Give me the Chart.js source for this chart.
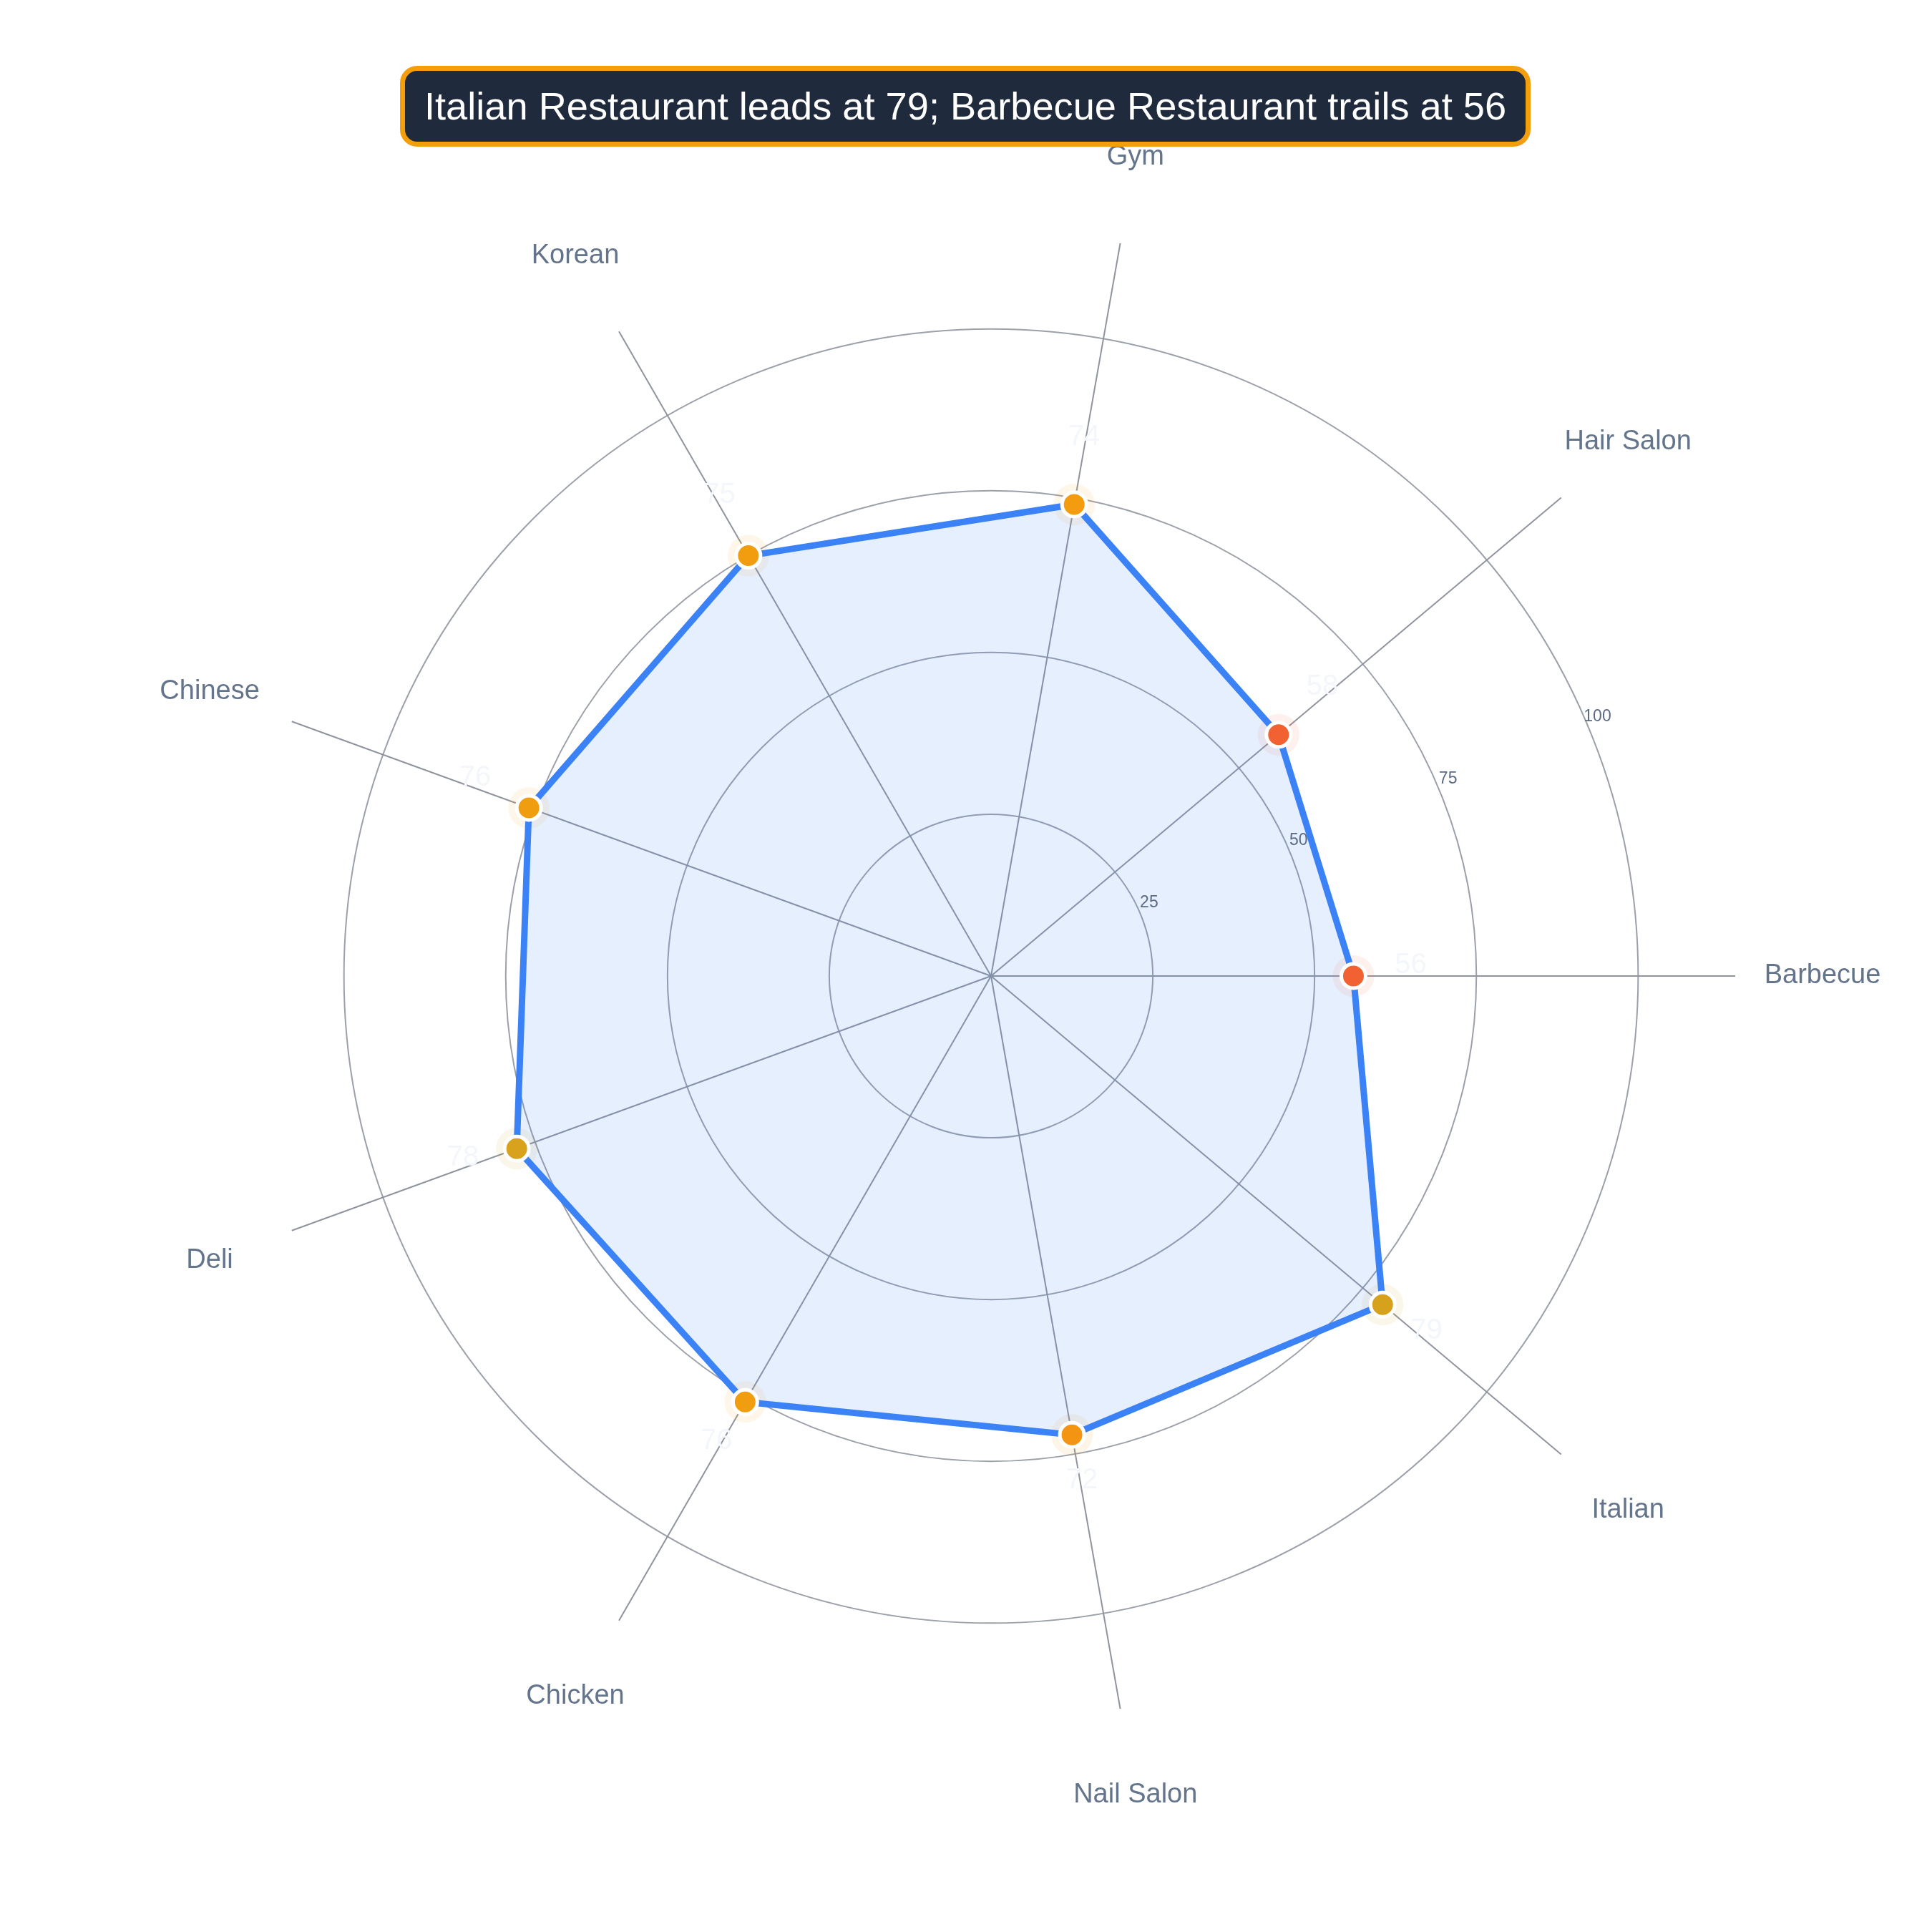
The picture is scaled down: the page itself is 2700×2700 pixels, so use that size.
<!DOCTYPE html>
<html>
<head>
<meta charset="utf-8">
<script src="https://cdn.jsdelivr.net/npm/chart.js@4.4.1/dist/chart.umd.min.js"></script>
<style>
  html, body { margin: 0; padding: 0; background: #ffffff; }
  #wrap { position: relative; width: 2700px; height: 2700px; }
  #title {
    position: absolute; top: 92px; left: 559px;
    height: 99px; line-height: 99px;
    padding: 0 27px;
    background: #1f2a3c; color: #ffffff;
    border: 7px solid #f59e0b; border-radius: 24px;
    font-family: "Liberation Sans", Arial, sans-serif; font-size: 54.2px;
    white-space: nowrap;
  }
</style>
</head>
<body>
<div id="wrap">
  <canvas id="radar" width="2700" height="2700"></canvas>
  <div id="title">Italian Restaurant leads at 79; Barbecue Restaurant trails at 56</div>
</div>
<script>
// categories go clockwise from the right (the picture's counter-clockwise order, reversed)
const categories = ["Barbecue", "Italian", "Nail Salon", "Chicken", "Deli", "Chinese", "Korean", "Gym", "Hair Salon"];
const values = [56, 79, 72, 76, 78, 76, 75, 74, 58];
const tickValues = [25, 50, 75, 100];

const pointColors = ["#f26132", "#d6a21e", "#f39412", "#f09e10", "#d9a21c", "#f09e10", "#f29c10", "#f49c10", "#f26132"];
const haloColors = pointColors.map(c => c + "18");

const FONT = '"Liberation Sans", Arial, sans-serif';

const overlay = {
  id: "overlay",
  afterDatasetsDraw(chart) {
    const s = chart.scales.r;
    const ctx = chart.ctx;
    ctx.save();
    ctx.textAlign = "center";
    ctx.textBaseline = "middle";

    // category labels
    ctx.font = "38px " + FONT;
    ctx.fillStyle = "#64748b";
    categories.forEach((c, i) => {
      const p = s.getPointPosition(i, s.drawingArea + 122);
      ctx.fillText(c, p.x, p.y);
    });

    // radial tick labels along 22.5 degrees
    ctx.font = "23px " + FONT;
    ctx.fillStyle = "#5b6b82";
    const a = -22.5 * Math.PI / 180;
    tickValues.forEach(v => {
      const r = s.getDistanceFromCenterForValue(v);
      ctx.fillText(String(v), s.xCenter + r * Math.cos(a) + 12, s.yCenter + r * Math.sin(a) - 16);
    });

    // value labels (very faint)
    ctx.font = "40px " + FONT;
    ctx.fillStyle = "#f3f6fa";
    values.forEach((v, i) => {
      const p = s.getPointPosition(i, s.getDistanceFromCenterForValue(v) + 80);
      ctx.fillText(String(v), p.x, p.y - 15);
    });
    ctx.restore();
  }
};

new Chart(document.getElementById("radar"), {
  type: "radar",
  data: {
    labels: categories,
    datasets: [
      {
        data: values,
        order: 1,
        borderColor: "#3b82f6",
        borderWidth: 9,
        fill: true,
        backgroundColor: "rgba(59,130,246,0.13)",
        pointRadius: 17,
        pointBorderWidth: 5,
        pointBorderColor: "#ffffff",
        pointBackgroundColor: pointColors
      },
      {
        data: values,
        order: 2,
        showLine: false,
        fill: false,
        borderWidth: 0,
        backgroundColor: "transparent",
        pointRadius: 29,
        pointBorderWidth: 0,
        pointBorderColor: "transparent",
        pointBackgroundColor: haloColors
      }
    ]
  },
  options: {
    responsive: false,
    devicePixelRatio: 1,
    animation: false,
    layout: { padding: { left: 345, right: 275, top: 324, bottom: 296 } },
    plugins: {
      legend: { display: false },
      tooltip: { enabled: false },
      title: { display: false }
    },
    scales: {
      r: {
        min: 0,
        max: 115,
        startAngle: 90,
        ticks: { display: false, stepSize: 25 },
        afterBuildTicks: scale => {
          scale.ticks = scale.ticks.filter(t => t.value === 0 || tickValues.includes(t.value));
        },
        pointLabels: { display: false },
        grid: { circular: true, color: "#9ba0a9", lineWidth: 2 },
        angleLines: { color: "#8f949d", lineWidth: 2 }
      }
    }
  },
  plugins: [overlay]
});
</script>
</body>
</html>
